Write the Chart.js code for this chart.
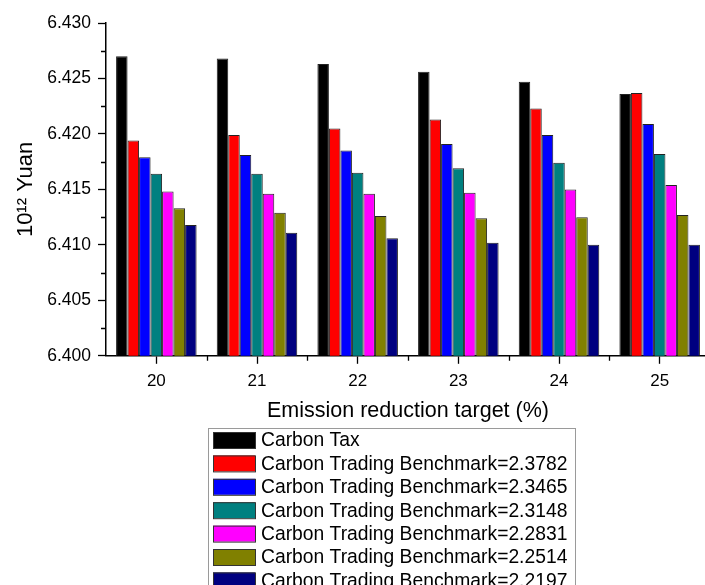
<!DOCTYPE html>
<html lang="en">
  <head>
    <meta charset="utf-8" />
    <script src="https://cdn.jsdelivr.net/npm/chart.js@4.4.1/dist/chart.umd.min.js"></script>
    <style>
      html, body { margin: 0; padding: 0; overflow: hidden; background: #fff; }
    </style>
  </head>
  <body>
    <canvas id="chart" width="712" height="600"></canvas>
    <script>
      // values (10^12 Yuan)
      const categories = ["20", "21", "22", "23", "24", "25"];
      const carbonTax = [6.4270, 6.4268, 6.4263, 6.4256, 6.4247, 6.4236];
      const bench23782 = [6.4194, 6.4199, 6.4205, 6.4213, 6.4223, 6.4237];
      const bench23465 = [6.4179, 6.4181, 6.4185, 6.4191, 6.4199, 6.4209];
      const bench23148 = [6.4164, 6.4164, 6.4165, 6.4169, 6.4174, 6.4182];
      const bench22831 = [6.4148, 6.4146, 6.4146, 6.4147, 6.4150, 6.4154];
      const bench22514 = [6.4133, 6.4129, 6.4126, 6.4124, 6.4125, 6.4127];
      const bench22197 = [6.4118, 6.4111, 6.4106, 6.4102, 6.4100, 6.4100];
      const seriesLabels = [
        "Carbon Tax",
        "Carbon Trading Benchmark=2.3782",
        "Carbon Trading Benchmark=2.3465",
        "Carbon Trading Benchmark=2.3148",
        "Carbon Trading Benchmark=2.2831",
        "Carbon Trading Benchmark=2.2514",
        "Carbon Trading Benchmark=2.2197",
      ];
      const yMin = 6.400;
      const yMax = 6.430;
      const yStep = 0.005;

      const colors = ["#000000", "#ff0000", "#0000ff", "#008080", "#ff00ff", "#808000", "#000080"];
      const series = [carbonTax, bench23782, bench23465, bench23148, bench22831, bench22514, bench22197];
      const FONT = "'Liberation Sans', Arial, sans-serif";

      // minor ticks between the major ones, on both axes
      const minorTicks = {
        id: "minorTicks",
        afterDraw(chart) {
          const ctx = chart.ctx;
          const x = chart.scales.x, y = chart.scales.y;
          ctx.save();
          ctx.strokeStyle = "#000";
          ctx.lineWidth = 1.3;
          ctx.beginPath();
          for (let v = yMin + yStep / 2; v < yMax; v += yStep) {
            const py = Math.round(y.getPixelForValue(v)) + 0.5;
            ctx.moveTo(x.left - 5, py);
            ctx.lineTo(x.left, py);
          }
          for (let i = 0; i < categories.length; i++) {
            const px = Math.round(x.getPixelForValue(i) + (x.getPixelForValue(1) - x.getPixelForValue(0)) / 2) + 0.5;
            ctx.moveTo(px, y.bottom);
            ctx.lineTo(px, y.bottom + 5);
          }
          ctx.stroke();
          ctx.restore();
        },
      };

      // boxed legend, one series per row, under the axis title
      const boxLegend = {
        id: "boxLegend",
        afterDraw(chart) {
          const ctx = chart.ctx;
          const left = 208, top = 428, right = 575, rowH = 23.4;
          ctx.save();
          ctx.strokeStyle = "#9a9a9a";
          ctx.lineWidth = 1;
          ctx.strokeRect(left + 0.5, top + 0.5, right - left, 200);
          ctx.font = "19.3px " + FONT;
          ctx.textBaseline = "middle";
          chart.data.datasets.forEach((ds, i) => {
            const cy = top + 12 + i * rowH;
            ctx.fillStyle = ds.backgroundColor;
            ctx.fillRect(213, cy - 8, 42, 16);
            ctx.strokeStyle = "#333";
            ctx.strokeRect(213.5, cy - 7.5, 42, 16);
            ctx.fillStyle = "#000";
            ctx.fillText(ds.label, 261, cy + 1);
          });
          ctx.restore();
        },
      };

      new Chart(document.getElementById("chart"), {
        type: "bar",
        data: {
          labels: categories,
          datasets: series.map((d, i) => ({
            label: seriesLabels[i],
            data: d,
            backgroundColor: colors[i],
            borderColor: "#222",
            borderWidth: 1,
            borderSkipped: "bottom",
            categoryPercentage: 0.8,
            barPercentage: 1.0,
          })),
        },
        options: {
          responsive: false,
          animation: false,
          layout: { padding: { top: 23, right: 2, bottom: 176, left: 0 } },
          plugins: {
            legend: { display: false },
            tooltip: { enabled: false },
          },
          scales: {
            x: {
              grid: { display: true, drawOnChartArea: false, offset: false, tickLength: 8, tickColor: "#000", tickWidth: 1.3 },
              border: { display: true, color: "#000", width: 1.5 },
              ticks: { color: "#000", font: { family: FONT, size: 17 }, padding: 7 },
              title: {
                display: true,
                text: "Emission reduction target (%)",
                color: "#000",
                font: { family: FONT, size: 21.5 },
                padding: { top: 0, bottom: 0 },
              },
            },
            y: {
              min: yMin,
              max: yMax,
              afterFit(scale) { scale.width = 106; },
              afterBuildTicks(scale) {
                const t = [];
                for (let v = yMin; v <= yMax + 1e-9; v += yStep) t.push({ value: +v.toFixed(3) });
                scale.ticks = t;
              },
              grid: { display: true, drawOnChartArea: false, tickLength: 8, tickColor: "#000", tickWidth: 1.3 },
              border: { display: true, color: "#000", width: 1.5 },
              ticks: {
                color: "#000",
                font: { family: FONT, size: 17.5 },
                padding: 7,
                callback: (v) => Number(v).toFixed(3),
              },
              title: {
                display: true,
                text: "10¹² Yuan",
                color: "#000",
                font: { family: FONT, size: 22 },
                padding: { top: 13, bottom: 0 },
              },
            },
          },
        },
        plugins: [minorTicks, boxLegend],
      });
    </script>
  </body>
</html>
